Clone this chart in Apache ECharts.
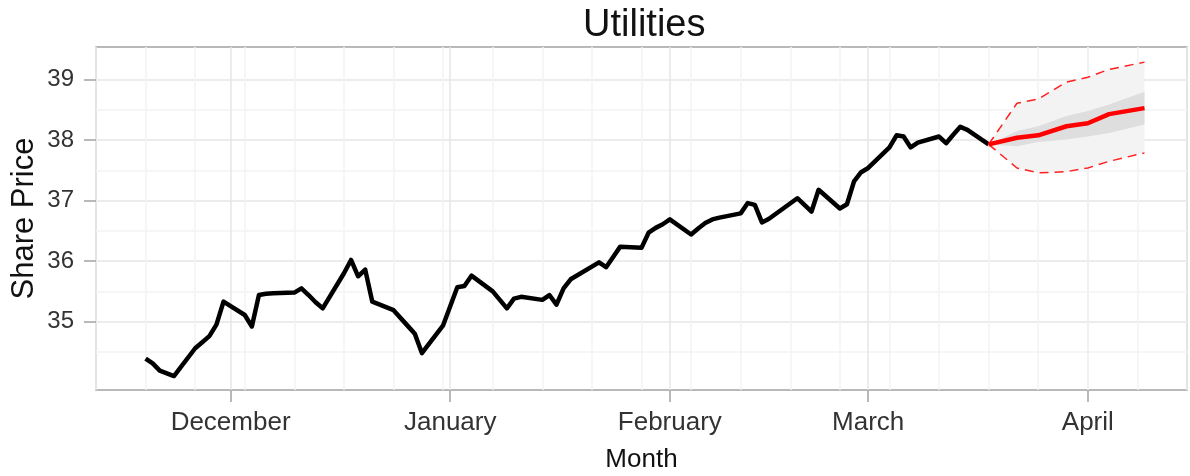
<!DOCTYPE html>
<html><head><meta charset="utf-8">
<script src="https://cdn.jsdelivr.net/npm/echarts@6/dist/echarts.min.js"></script>
<style>html,body{margin:0;padding:0;background:#fff}#c{width:1190px;height:476px}</style>
</head><body><div id="c"></div>
<script>
// ---- data ----
const histDates = [
 '2012-11-19','2012-11-20','2012-11-21','2012-11-23','2012-11-26','2012-11-27','2012-11-28','2012-11-29','2012-11-30',
 '2012-12-03','2012-12-04','2012-12-05','2012-12-06','2012-12-07','2012-12-10','2012-12-11','2012-12-12','2012-12-13','2012-12-14',
 '2012-12-17','2012-12-18','2012-12-19','2012-12-20','2012-12-21','2012-12-24','2012-12-26','2012-12-27','2012-12-28','2012-12-31',
 '2013-01-02','2013-01-03','2013-01-04','2013-01-07','2013-01-08','2013-01-09','2013-01-10','2013-01-11','2013-01-14','2013-01-15',
 '2013-01-16','2013-01-17','2013-01-18','2013-01-22','2013-01-23','2013-01-24','2013-01-25','2013-01-28','2013-01-29','2013-01-30',
 '2013-01-31','2013-02-01','2013-02-04','2013-02-05','2013-02-06','2013-02-07','2013-02-08','2013-02-11','2013-02-12','2013-02-13',
 '2013-02-14','2013-02-15','2013-02-19','2013-02-20','2013-02-21','2013-02-22','2013-02-25','2013-02-26','2013-02-27','2013-02-28',
 '2013-03-01','2013-03-04','2013-03-05','2013-03-06','2013-03-07','2013-03-08','2013-03-11','2013-03-12','2013-03-13','2013-03-14',
 '2013-03-15','2013-03-18'];
const histValues = [
 34.39,34.31,34.19,34.10,34.56,34.66,34.76,34.95,35.33,
 35.11,34.92,35.44,35.46,35.47,35.48,35.55,35.44,35.32,35.22,
 35.80,36.02,35.75,35.86,35.33,35.19,34.93,34.80,34.48,34.94,
 35.57,35.59,35.76,35.50,35.36,35.22,35.38,35.41,35.36,35.44,
 35.28,35.55,35.70,35.98,35.90,36.07,36.24,36.22,36.47,36.55,
 36.61,36.69,36.44,36.54,36.63,36.69,36.72,36.79,36.96,36.93,
 36.64,36.70,37.04,36.93,36.82,37.18,36.87,36.94,37.32,37.47,
 37.54,37.88,38.08,38.06,37.88,37.96,38.06,37.95,38.09,38.22,
 38.17,37.93];
const fcDates      = ['2013-03-18','2013-03-22','2013-03-25','2013-03-29','2013-04-01','2013-04-04','2013-04-09'];
const fcMean       = [37.93,38.04,38.08,38.23,38.28,38.43,38.53];
const fcInnerLow   = [37.93,37.90,37.97,38.01,38.06,38.12,38.26];
const fcInnerHigh  = [37.93,38.15,38.23,38.40,38.48,38.59,38.80];
const fcOuterLow   = [37.93,37.54,37.46,37.48,37.54,37.65,37.79];
const fcOuterHigh  = [37.93,38.61,38.68,38.96,39.04,39.17,39.29];
const monthTickDates  = ['2012-12-01','2013-01-01','2013-02-01','2013-03-01','2013-04-01'];
const monthTickLabels = ['December','January','February','March','April'];
const yTickValues  = [35,36,37,38,39];
const yMinorValues = [34.5,35.5,36.5,37.5,38.5];
const xRange = ['2012-11-12','2013-04-15'];
const yRange = [33.87,39.54];

// ---- helpers ----
function ts(s){const p=s.split('-').map(Number);return new Date(p[0],p[1]-1,p[2]).getTime();}
const DAY = 86400000;
const xMin = ts(xRange[0]), xMax = ts(xRange[1]);
const spanDays = Math.round((xMax - xMin)/DAY);
const monthTicks = monthTickDates.map(ts);
const pairs = (d,v)=>d.map((x,i)=>[ts(x),v[i]]);

function bandSeries(lo, hi, color, z){
  return {
    type:'custom', z:z, silent:true, clip:true,
    data: fcDates.map((d,i)=>[ts(d), lo[i], hi[i]]),
    encode:{x:0, y:[1,2]},
    renderItem:function(params, api){
      if (params.dataIndex !== 0) return null;
      const n = fcDates.length, pts = [];
      for (let i=0;i<n;i++) pts.push(api.coord([ts(fcDates[i]), hi[i]]));
      for (let i=n-1;i>=0;i--) pts.push(api.coord([ts(fcDates[i]), lo[i]]));
      return {type:'polygon', shape:{points:pts}, style:{fill:color}};
    }
  };
}

const FONT = 'Liberation Sans';
const BORDER = '#a3a3a3';
const chart = echarts.init(document.getElementById('c'), null, {renderer:'canvas'});
chart.setOption({
  animation:false,
  backgroundColor:'#fff',
  title:{text:'Utilities', left:583, top:7, padding:0,
    textStyle:{fontFamily:FONT, fontSize:38, fontWeight:'normal', color:'#111'}},
  grid:{left:96, right:3, top:47, bottom:86, containLabel:false, outerBoundsMode:'none',
    show:true, borderColor:BORDER, borderWidth:1.5, backgroundColor:'#fff'},
  xAxis:[{
    type:'value', min:xMin, max:xMax,
    name:'Month', nameLocation:'middle', nameGap:57,
    nameTextStyle:{fontFamily:FONT, fontSize:26, color:'#111'},
    axisLine:{show:false},
    axisTick:{show:true, length:12, lineStyle:{color:BORDER, width:1.5}, customValues:monthTicks},
    axisLabel:{fontFamily:FONT, fontSize:26, color:'#333', margin:20, customValues:monthTicks,
      formatter:(v)=>monthTickLabels[monthTicks.indexOf(v)] || ''},
    splitLine:{show:true, lineStyle:{color:'#e6e6e6', width:1.5}}
  },{
    type:'value', min:0, max:spanDays, interval:7, position:'bottom',
    axisLine:{show:false}, axisTick:{show:false}, axisLabel:{show:false},
    splitLine:{show:true, lineStyle:{color:'#f3f3f3', width:1.5}}
  }],
  yAxis:[{
    type:'value', min:yRange[0], max:yRange[1],
    name:'Share Price', nameLocation:'middle', nameGap:56, nameRotate:90, nameMoveOverlap:false,
    nameTextStyle:{fontFamily:FONT, fontSize:31, color:'#111'},
    axisLine:{show:false},
    axisTick:{show:true, length:12, lineStyle:{color:BORDER, width:1.5}, customValues:yTickValues},
    axisLabel:{fontFamily:FONT, fontSize:24, color:'#333', margin:22, customValues:yTickValues},
    splitLine:{show:true, lineStyle:{color:'#e6e6e6', width:1.5}}
  },{
    type:'value', min:yRange[0], max:yRange[1], position:'left',
    axisLine:{show:false}, axisTick:{show:false, customValues:yMinorValues}, axisLabel:{show:false},
    splitLine:{show:true, lineStyle:{color:'#f3f3f3', width:1.5}}
  }],
  series:[
    bandSeries(fcOuterLow, fcOuterHigh, '#f3f3f3', 2),
    bandSeries(fcInnerLow, fcInnerHigh, '#dedede', 3),
    {type:'line', data:pairs(histDates, histValues), symbol:'none', lineStyle:{color:'#000', width:4.5, join:'round'}, z:5},
    {type:'line', data:pairs(fcDates, fcOuterHigh), symbol:'none', lineStyle:{color:'#ff2020', width:1.5, type:[9,6]}, z:5},
    {type:'line', data:pairs(fcDates, fcOuterLow), symbol:'none', lineStyle:{color:'#ff2020', width:1.5, type:[9,6]}, z:5},
    {type:'line', data:pairs(fcDates, fcMean), symbol:'none', lineStyle:{color:'#ff0000', width:4.5, join:'round'}, z:6}
  ]
});
</script></body></html>
